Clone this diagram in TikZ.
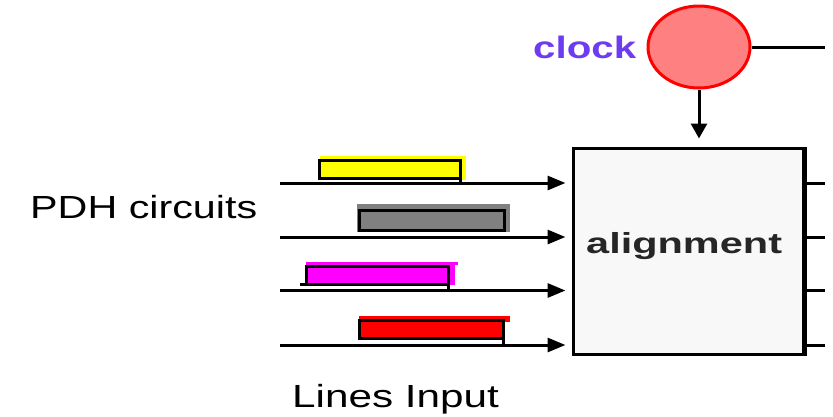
\documentclass[tikz,border=0pt]{standalone}
\usepackage{fontspec}
\setmainfont{Liberation Sans}
\usetikzlibrary{arrows.meta,shapes.geometric}
\definecolor{clockfill}{RGB}{255,128,128}
\definecolor{clockink}{RGB}{110,60,240}
\definecolor{boxfill}{RGB}{248,248,248}
\definecolor{bargray}{RGB}{128,128,128}
\definecolor{barmagenta}{RGB}{255,0,255}
\definecolor{baryellow}{RGB}{255,255,0}
\definecolor{barred}{RGB}{255,0,0}
% text set at a given size, widened horizontally
\newcommand\widetext[3]{\scalebox{#1}[1]{\fontsize{#2}{#2}\selectfont #3}}
\tikzset{
  wire/.style={line width=3pt},
  inarrow/.style={wire,-{Triangle[length=18pt,width=14pt]},shorten >=6pt},
  clockarrow/.style={wire,-{Triangle[length=15pt,width=16pt]},shorten >=8pt},
  barframe/.style={line width=3pt},
  lbl/.style={inner sep=0pt,anchor=base west},
}
\begin{document}
\begin{tikzpicture}[x=1pt,y=-1pt]
\useasboundingbox (0,0) rectangle (833,416);

% clock source
\node[ellipse,draw=barred,line width=3pt,fill=clockfill,minimum width=102pt,minimum height=82pt,inner sep=0pt] (clk) at (699,47) {};
\node[lbl,text=clockink] (clklbl) at (533,58) {\widetext{1.30}{31pt}{\bfseries clock}};
\coordinate (clkout) at (825,47);
\draw[wire] (clk.east) -- (clkout);

% alignment block
\node[rectangle,draw,line width=3pt,fill=boxfill,minimum width=230pt,minimum height=206pt,inner sep=0pt] (align) at (688,251) {};
\draw[line width=4.5pt] (align.north east) -- (align.south east);
\node[lbl,text=black!85] (alignlbl) at (586,253) {\widetext{1.43}{29pt}{\bfseries alignment}};
\draw[clockarrow] (clk.south) -- (clk.south |- align.north);

% input lines and output lines
\foreach \i/\yy in {0/183,1/237,2/290.5,3/345}{
  \coordinate (in\i) at (280,\yy);
  \coordinate (out\i) at (825,\yy);
  \draw[inarrow] (in\i) -- (in\i -| align.west);
  \draw[wire] (out\i -| align.east) -- (out\i);
}

% circuit bars
\fill[baryellow] (320,156) rectangle (466,180);
\draw[barframe] (319,160.3) rectangle (460,178.7);
\draw[barframe] (460,178) -- (460,183);

\fill[bargray] (357,204) rectangle (510,232);
\draw[barframe] (359,210) rectangle (504,230);

\fill[barmagenta] (306,262) rectangle (455,285);
\fill[barmagenta] (440,262) rectangle (458,265);
\draw[barframe] (306,266.7) rectangle (448,284.3);
\draw[barframe] (300,284.3) -- (306,284.3);
\draw[barframe] (448,284) -- (448,290);

\fill[barred] (359,316) rectangle (510,322);
\fill[barred] (359,320) rectangle (504,339);
\draw[barframe] (359,320.5) rectangle (503.7,338.3);
\draw[barframe] (503.7,338) -- (503.7,345);

% captions
\node[lbl] (pdhlbl) at (30,218) {\widetext{1.29}{32pt}{PDH circuits}};
\node[lbl] (lineslbl) at (292,407) {\widetext{1.32}{32pt}{Lines Input}};
\end{tikzpicture}
\end{document}
